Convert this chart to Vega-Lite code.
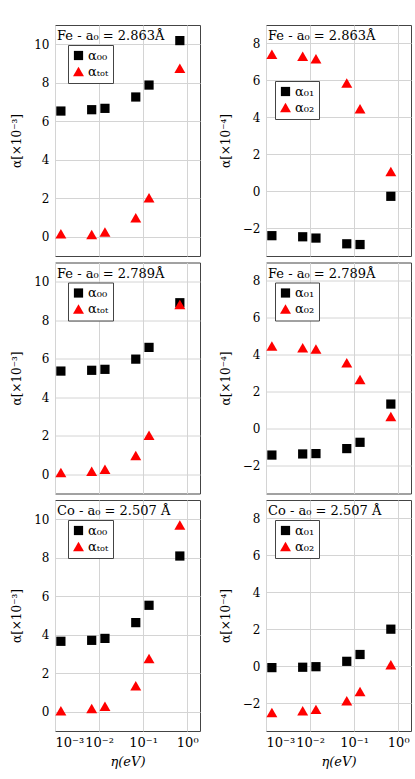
{
  "$schema": "https://vega.github.io/schema/vega-lite/v6.json",
  "padding": {"left": 10, "top": 24, "right": 8, "bottom": 5},
  "background": "white",
  "config": {
    "font": "DejaVu Serif",
    "view": {"stroke": "#444", "strokeWidth": 1},
    "axis": {"labelFont": "DejaVu Serif", "labelFontSize": 12, "labelColor": "black", "titleFont": "DejaVu Serif", "titleFontSize": 12, "titleFontWeight": "normal", "titleColor": "black", "gridColor": "#d4d4d4", "domain": false, "ticks": false, "labelPadding": 6, "titlePadding": 10},
    "legend": {"labelFont": "DejaVu Serif", "labelFontSize": 13, "labelColor": "black", "strokeColor": "#444", "fillColor": "white", "padding": 4, "symbolSize": 100, "symbolStrokeWidth": 0, "rowPadding": 2, "labelOffset": 3},
    "title": {"font": "DejaVu Serif", "fontSize": 13, "fontWeight": "normal", "color": "black", "anchor": "start", "frame": "group", "orient": "top", "baseline": "alphabetic", "offset": -18, "dx": 2},
    "point": {"filled": true, "opacity": 1, "size": 90}
  },
  "data": {"values": [
    {"p": "A", "s": "α₀₀", "eta": 0.00136, "v": 6.53},
    {"p": "A", "s": "α₀₀", "eta": 0.0068, "v": 6.6},
    {"p": "A", "s": "α₀₀", "eta": 0.0136, "v": 6.67},
    {"p": "A", "s": "α₀₀", "eta": 0.068, "v": 7.26},
    {"p": "A", "s": "α₀₀", "eta": 0.136, "v": 7.88},
    {"p": "A", "s": "α₀₀", "eta": 0.68, "v": 10.19},
    {"p": "A", "s": "αₜₒₜ", "eta": 0.00136, "v": 0.15},
    {"p": "A", "s": "αₜₒₜ", "eta": 0.0068, "v": 0.12},
    {"p": "A", "s": "αₜₒₜ", "eta": 0.0136, "v": 0.25},
    {"p": "A", "s": "αₜₒₜ", "eta": 0.068, "v": 0.99},
    {"p": "A", "s": "αₜₒₜ", "eta": 0.136, "v": 2.03},
    {"p": "A", "s": "αₜₒₜ", "eta": 0.68, "v": 8.75},
    {"p": "B", "s": "α₀₁", "eta": 0.00136, "v": -2.4},
    {"p": "B", "s": "α₀₁", "eta": 0.0068, "v": -2.46},
    {"p": "B", "s": "α₀₁", "eta": 0.0136, "v": -2.53},
    {"p": "B", "s": "α₀₁", "eta": 0.068, "v": -2.84},
    {"p": "B", "s": "α₀₁", "eta": 0.136, "v": -2.88},
    {"p": "B", "s": "α₀₁", "eta": 0.68, "v": -0.27},
    {"p": "B", "s": "α₀₂", "eta": 0.00136, "v": 7.42},
    {"p": "B", "s": "α₀₂", "eta": 0.0068, "v": 7.31},
    {"p": "B", "s": "α₀₂", "eta": 0.0136, "v": 7.17},
    {"p": "B", "s": "α₀₂", "eta": 0.068, "v": 5.86},
    {"p": "B", "s": "α₀₂", "eta": 0.136, "v": 4.47},
    {"p": "B", "s": "α₀₂", "eta": 0.68, "v": 1.07},
    {"p": "C", "s": "α₀₀", "eta": 0.00136, "v": 5.36},
    {"p": "C", "s": "α₀₀", "eta": 0.0068, "v": 5.4},
    {"p": "C", "s": "α₀₀", "eta": 0.0136, "v": 5.45},
    {"p": "C", "s": "α₀₀", "eta": 0.068, "v": 5.98},
    {"p": "C", "s": "α₀₀", "eta": 0.136, "v": 6.59},
    {"p": "C", "s": "α₀₀", "eta": 0.68, "v": 8.91},
    {"p": "C", "s": "αₜₒₜ", "eta": 0.00136, "v": 0.09},
    {"p": "C", "s": "αₜₒₜ", "eta": 0.0068, "v": 0.16},
    {"p": "C", "s": "αₜₒₜ", "eta": 0.0136, "v": 0.26},
    {"p": "C", "s": "αₜₒₜ", "eta": 0.068, "v": 0.97},
    {"p": "C", "s": "αₜₒₜ", "eta": 0.136, "v": 2.02},
    {"p": "C", "s": "αₜₒₜ", "eta": 0.68, "v": 8.82},
    {"p": "D", "s": "α₀₁", "eta": 0.00136, "v": -1.42},
    {"p": "D", "s": "α₀₁", "eta": 0.0068, "v": -1.36},
    {"p": "D", "s": "α₀₁", "eta": 0.0136, "v": -1.34},
    {"p": "D", "s": "α₀₁", "eta": 0.068, "v": -1.07},
    {"p": "D", "s": "α₀₁", "eta": 0.136, "v": -0.73},
    {"p": "D", "s": "α₀₁", "eta": 0.68, "v": 1.34},
    {"p": "D", "s": "α₀₂", "eta": 0.00136, "v": 4.48},
    {"p": "D", "s": "α₀₂", "eta": 0.0068, "v": 4.39},
    {"p": "D", "s": "α₀₂", "eta": 0.0136, "v": 4.32},
    {"p": "D", "s": "α₀₂", "eta": 0.068, "v": 3.57},
    {"p": "D", "s": "α₀₂", "eta": 0.136, "v": 2.67},
    {"p": "D", "s": "α₀₂", "eta": 0.68, "v": 0.67},
    {"p": "E", "s": "α₀₀", "eta": 0.00136, "v": 3.66},
    {"p": "E", "s": "α₀₀", "eta": 0.0068, "v": 3.71},
    {"p": "E", "s": "α₀₀", "eta": 0.0136, "v": 3.81},
    {"p": "E", "s": "α₀₀", "eta": 0.068, "v": 4.63},
    {"p": "E", "s": "α₀₀", "eta": 0.136, "v": 5.53},
    {"p": "E", "s": "α₀₀", "eta": 0.68, "v": 8.09},
    {"p": "E", "s": "αₜₒₜ", "eta": 0.00136, "v": 0.05},
    {"p": "E", "s": "αₜₒₜ", "eta": 0.0068, "v": 0.17},
    {"p": "E", "s": "αₜₒₜ", "eta": 0.0136, "v": 0.28},
    {"p": "E", "s": "αₜₒₜ", "eta": 0.068, "v": 1.35},
    {"p": "E", "s": "αₜₒₜ", "eta": 0.136, "v": 2.77},
    {"p": "E", "s": "αₜₒₜ", "eta": 0.68, "v": 9.7},
    {"p": "F", "s": "α₀₁", "eta": 0.00136, "v": -0.07},
    {"p": "F", "s": "α₀₁", "eta": 0.0068, "v": -0.05},
    {"p": "F", "s": "α₀₁", "eta": 0.0136, "v": -0.02},
    {"p": "F", "s": "α₀₁", "eta": 0.068, "v": 0.27},
    {"p": "F", "s": "α₀₁", "eta": 0.136, "v": 0.64},
    {"p": "F", "s": "α₀₁", "eta": 0.68, "v": 2.01},
    {"p": "F", "s": "α₀₂", "eta": 0.00136, "v": -2.5},
    {"p": "F", "s": "α₀₂", "eta": 0.0068, "v": -2.4},
    {"p": "F", "s": "α₀₂", "eta": 0.0136, "v": -2.33},
    {"p": "F", "s": "α₀₂", "eta": 0.068, "v": -1.86},
    {"p": "F", "s": "α₀₂", "eta": 0.136, "v": -1.36},
    {"p": "F", "s": "α₀₂", "eta": 0.68, "v": 0.09}
  ]},
  "spacing": 4.5,
  "resolve": {"scale": {"color": "independent", "shape": "independent", "size": "independent"}, "legend": {"color": "independent", "shape": "independent"}},
  "vconcat": [
    {
      "spacing": 17,
      "resolve": {"scale": {"color": "independent", "shape": "independent", "size": "independent"}, "legend": {"color": "independent", "shape": "independent"}},
      "hconcat": [
        {
          "width": 145, "height": 231,
          "title": {"text": "Fe - a₀ = 2.863Å"},
          "transform": [{"filter": "datum.p === 'A'"}],
          "mark": "point",
          "encoding": {
            "x": {"field": "eta", "type": "quantitative", "scale": {"type": "log", "domain": [0.001, 1.95], "nice": false}, "axis": {"values": [0.001, 0.01, 0.1, 1], "labels": false, "title": null}},
            "y": {"field": "v", "type": "quantitative", "scale": {"domain": [-1, 11], "nice": false, "zero": false}, "axis": {"values": [0, 2, 4, 6, 8, 10], "title": "α[×10⁻³]"}},
            "color": {"field": "s", "type": "nominal", "scale": {"domain": ["α₀₀", "αₜₒₜ"], "range": ["black", "red"]}, "legend": {"title": null, "orient": "none", "legendX": 13, "legendY": 20}},
            "shape": {"field": "s", "type": "nominal", "scale": {"domain": ["α₀₀", "αₜₒₜ"], "range": ["square", "triangle-up"]}, "legend": {"title": null, "orient": "none", "legendX": 13, "legendY": 20}},
            "size": {"field": "s", "type": "nominal", "scale": {"domain": ["α₀₀", "αₜₒₜ"], "range": [85, 120]}, "legend": null}
          }
        },
        {
          "width": 145, "height": 231,
          "title": {"text": "Fe - a₀ = 2.863Å"},
          "transform": [{"filter": "datum.p === 'B'"}],
          "mark": "point",
          "encoding": {
            "x": {"field": "eta", "type": "quantitative", "scale": {"type": "log", "domain": [0.001, 1.95], "nice": false}, "axis": {"values": [0.001, 0.01, 0.1, 1], "labels": false, "title": null}},
            "y": {"field": "v", "type": "quantitative", "scale": {"domain": [-3.5, 9], "nice": false, "zero": false}, "axis": {"values": [-2, 0, 2, 4, 6, 8], "title": "α[×10⁻⁴]"}},
            "color": {"field": "s", "type": "nominal", "scale": {"domain": ["α₀₁", "α₀₂"], "range": ["black", "red"]}, "legend": {"title": null, "orient": "none", "legendX": 9, "legendY": 56}},
            "shape": {"field": "s", "type": "nominal", "scale": {"domain": ["α₀₁", "α₀₂"], "range": ["square", "triangle-up"]}, "legend": {"title": null, "orient": "none", "legendX": 9, "legendY": 56}},
            "size": {"field": "s", "type": "nominal", "scale": {"domain": ["α₀₁", "α₀₂"], "range": [85, 120]}, "legend": null}
          }
        }
      ]
    },
    {
      "spacing": 17,
      "resolve": {"scale": {"color": "independent", "shape": "independent", "size": "independent"}, "legend": {"color": "independent", "shape": "independent"}},
      "hconcat": [
        {
          "width": 145, "height": 231,
          "title": {"text": "Fe - a₀ = 2.789Å"},
          "transform": [{"filter": "datum.p === 'C'"}],
          "mark": "point",
          "encoding": {
            "x": {"field": "eta", "type": "quantitative", "scale": {"type": "log", "domain": [0.001, 1.95], "nice": false}, "axis": {"values": [0.001, 0.01, 0.1, 1], "labels": false, "title": null}},
            "y": {"field": "v", "type": "quantitative", "scale": {"domain": [-1, 11], "nice": false, "zero": false}, "axis": {"values": [0, 2, 4, 6, 8, 10], "title": "α[×10⁻³]"}},
            "color": {"field": "s", "type": "nominal", "scale": {"domain": ["α₀₀", "αₜₒₜ"], "range": ["black", "red"]}, "legend": {"title": null, "orient": "none", "legendX": 13, "legendY": 20}},
            "shape": {"field": "s", "type": "nominal", "scale": {"domain": ["α₀₀", "αₜₒₜ"], "range": ["square", "triangle-up"]}, "legend": {"title": null, "orient": "none", "legendX": 13, "legendY": 20}},
            "size": {"field": "s", "type": "nominal", "scale": {"domain": ["α₀₀", "αₜₒₜ"], "range": [85, 120]}, "legend": null}
          }
        },
        {
          "width": 145, "height": 231,
          "title": {"text": "Fe - a₀ = 2.789Å"},
          "transform": [{"filter": "datum.p === 'D'"}],
          "mark": "point",
          "encoding": {
            "x": {"field": "eta", "type": "quantitative", "scale": {"type": "log", "domain": [0.001, 1.95], "nice": false}, "axis": {"values": [0.001, 0.01, 0.1, 1], "labels": false, "title": null}},
            "y": {"field": "v", "type": "quantitative", "scale": {"domain": [-3.5, 9], "nice": false, "zero": false}, "axis": {"values": [-2, 0, 2, 4, 6, 8], "title": "α[×10⁻⁴]"}},
            "color": {"field": "s", "type": "nominal", "scale": {"domain": ["α₀₁", "α₀₂"], "range": ["black", "red"]}, "legend": {"title": null, "orient": "none", "legendX": 9, "legendY": 20}},
            "shape": {"field": "s", "type": "nominal", "scale": {"domain": ["α₀₁", "α₀₂"], "range": ["square", "triangle-up"]}, "legend": {"title": null, "orient": "none", "legendX": 9, "legendY": 20}},
            "size": {"field": "s", "type": "nominal", "scale": {"domain": ["α₀₁", "α₀₂"], "range": [85, 120]}, "legend": null}
          }
        }
      ]
    },
    {
      "spacing": 17,
      "resolve": {"scale": {"color": "independent", "shape": "independent", "size": "independent"}, "legend": {"color": "independent", "shape": "independent"}},
      "hconcat": [
        {
          "width": 145, "height": 231,
          "title": {"text": "Co - a₀ = 2.507 Å"},
          "transform": [{"filter": "datum.p === 'E'"}],
          "mark": "point",
          "encoding": {
            "x": {"field": "eta", "type": "quantitative", "scale": {"type": "log", "domain": [0.001, 1.95], "nice": false}, "axis": {"values": [0.001, 0.01, 0.1, 1], "labelExpr": "datum.value < 0.005 ? '10⁻³' : datum.value < 0.05 ? '10⁻²' : datum.value < 0.5 ? '10⁻¹' : '10⁰'", "labelPadding": 5, "labelFontSize": 13, "title": "η(eV)", "titleFontStyle": "italic", "titleFontSize": 13, "titlePadding": 6}},
            "y": {"field": "v", "type": "quantitative", "scale": {"domain": [-1, 11], "nice": false, "zero": false}, "axis": {"values": [0, 2, 4, 6, 8, 10], "title": "α[×10⁻³]"}},
            "color": {"field": "s", "type": "nominal", "scale": {"domain": ["α₀₀", "αₜₒₜ"], "range": ["black", "red"]}, "legend": {"title": null, "orient": "none", "legendX": 13, "legendY": 20}},
            "shape": {"field": "s", "type": "nominal", "scale": {"domain": ["α₀₀", "αₜₒₜ"], "range": ["square", "triangle-up"]}, "legend": {"title": null, "orient": "none", "legendX": 13, "legendY": 20}},
            "size": {"field": "s", "type": "nominal", "scale": {"domain": ["α₀₀", "αₜₒₜ"], "range": [85, 120]}, "legend": null}
          }
        },
        {
          "width": 145, "height": 231,
          "title": {"text": "Co - a₀ = 2.507 Å"},
          "transform": [{"filter": "datum.p === 'F'"}],
          "mark": "point",
          "encoding": {
            "x": {"field": "eta", "type": "quantitative", "scale": {"type": "log", "domain": [0.001, 1.95], "nice": false}, "axis": {"values": [0.001, 0.01, 0.1, 1], "labelExpr": "datum.value < 0.005 ? '10⁻³' : datum.value < 0.05 ? '10⁻²' : datum.value < 0.5 ? '10⁻¹' : '10⁰'", "labelPadding": 5, "labelFontSize": 13, "title": "η(eV)", "titleFontStyle": "italic", "titleFontSize": 13, "titlePadding": 6}},
            "y": {"field": "v", "type": "quantitative", "scale": {"domain": [-3.5, 9], "nice": false, "zero": false}, "axis": {"values": [-2, 0, 2, 4, 6, 8], "title": "α[×10⁻⁴]"}},
            "color": {"field": "s", "type": "nominal", "scale": {"domain": ["α₀₁", "α₀₂"], "range": ["black", "red"]}, "legend": {"title": null, "orient": "none", "legendX": 9, "legendY": 20}},
            "shape": {"field": "s", "type": "nominal", "scale": {"domain": ["α₀₁", "α₀₂"], "range": ["square", "triangle-up"]}, "legend": {"title": null, "orient": "none", "legendX": 9, "legendY": 20}},
            "size": {"field": "s", "type": "nominal", "scale": {"domain": ["α₀₁", "α₀₂"], "range": [85, 120]}, "legend": null}
          }
        }
      ]
    }
  ]
}
